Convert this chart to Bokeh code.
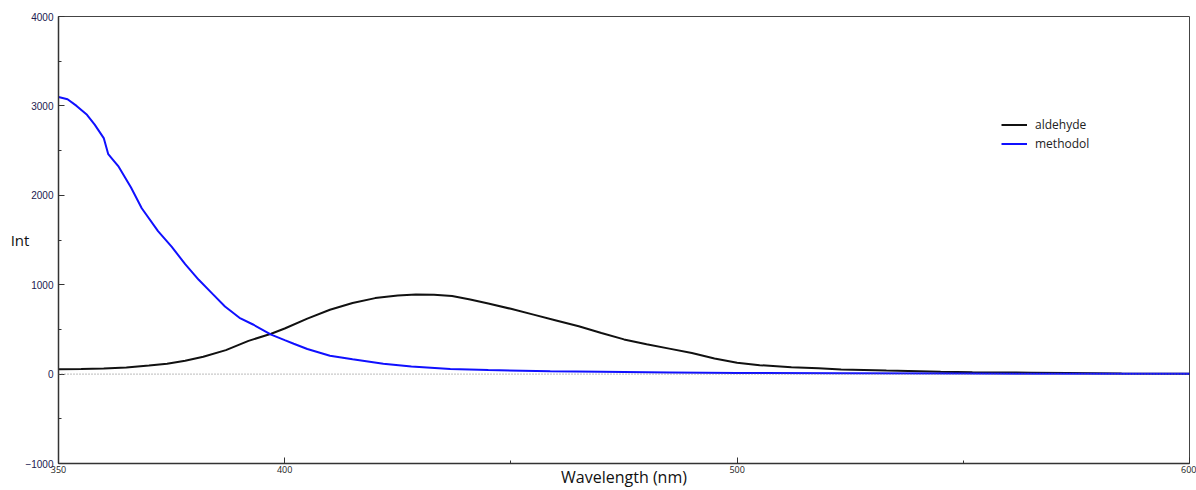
from bokeh.plotting import figure
from bokeh.models import Range1d, FixedTicker, Span, Legend, LegendItem
from bokeh.embed import file_html
from bokeh.resources import INLINE

# ---- data ----
ald_wl = [350, 355, 360, 365, 370, 374, 378, 382, 387, 392, 397, 400, 405, 410, 415,
          420, 425, 429, 433, 437, 441, 445, 450, 455, 460, 465, 470, 475, 480, 485,
          490, 495, 500, 505, 512, 518, 523, 533, 545, 552, 565, 573, 585, 600]
ald_int = [55, 58, 62, 75, 95, 117, 150, 195, 268, 372, 452, 510, 620, 720, 795,
           850, 880, 891, 888, 874, 835, 790, 730, 665, 600, 535, 460, 388, 333, 285,
           235, 175, 128, 100, 76, 66, 52, 39, 26, 20, 16, 13, 8, 5]

met_wl = [350, 352, 354, 356.3, 358, 360, 361, 362, 363.3, 366, 368.4, 372, 375, 378,
          381, 384, 386.8, 390, 393, 397, 400, 402, 405, 410, 415, 421.8, 428, 436.6,
          445, 458.7, 470, 485, 500, 523, 550, 575, 600]
met_int = [3100, 3075, 3000, 2900, 2790, 2640, 2460, 2400, 2320, 2090, 1855, 1600, 1426, 1230,
           1055, 900, 757, 630, 555, 441, 380, 340, 281, 206, 165, 117, 85, 58,
           45, 31, 25, 18, 13, 10, 6, 4, 3]

x_major = [350, 400, 500, 600]
x_minor = [450, 550]
y_major = [-1000, 0, 1000, 2000, 3000, 4000]
y_minor = [-500, 500, 1500, 2500, 3500]

series_names = ["aldehyde", "methodol"]
series_colors = ["#111111", "#1010ff"]
x_title = "Wavelength (nm)"
y_title = "Int"

p = figure(width=1196, height=490, output_backend="svg", toolbar_location=None,
           x_range=Range1d(350, 600), y_range=Range1d(-1000, 4000),
           min_border_left=58, min_border_right=7, min_border_top=16, min_border_bottom=26)

p.xgrid.visible = False
p.ygrid.visible = False
p.outline_line_color = "#444444"
p.outline_line_width = 1
p.background_fill_color = "white"
p.border_fill_color = "white"

# axes
p.xaxis.ticker = FixedTicker(ticks=x_major, minor_ticks=x_minor)
p.yaxis.ticker = FixedTicker(ticks=y_major, minor_ticks=y_minor)
for ax in (p.xaxis, p.yaxis):
    ax.axis_line_color = "#333333"
    ax.axis_line_width = 1.5
    ax.major_tick_in = 6
    ax.major_tick_out = 0
    ax.minor_tick_in = 3
    ax.minor_tick_out = 0
    ax.major_tick_line_color = "#333333"
    ax.minor_tick_line_color = "#333333"
    ax.axis_label_text_font = "Open Sans"
    ax.axis_label_text_font_style = "normal"
    ax.axis_label_text_color = "#111111"
p.xaxis.major_label_text_font = "Open Sans"
p.xaxis.major_label_text_font_size = "9px"
p.xaxis.major_label_text_color = "#222222"
p.xaxis.major_label_standoff = 2
p.yaxis.major_label_text_font = "Liberation Sans"
p.yaxis.major_label_text_font_size = "10px"
p.yaxis.major_label_text_color = "#202050"
p.yaxis.major_label_standoff = 5

# axis titles
p.xaxis.axis_label = x_title
p.xaxis.axis_label_text_font_size = "16px"
p.xaxis.axis_label_standoff = -10
p.yaxis.axis_label = y_title
p.yaxis.axis_label_text_font_size = "15px"
p.yaxis.axis_label_standoff = -7
yax = p.yaxis[0]
if "axis_label_orientation" in yax.properties():
    yax.axis_label_orientation = "horizontal"

# zero line
p.add_layout(Span(location=0, dimension="width", line_color="#777777",
                  line_width=1, line_dash="1 2"))

r1 = p.line(ald_wl, ald_int, line_color=series_colors[0], line_width=2)
r2 = p.line(met_wl, met_int, line_color=series_colors[1], line_width=2)

legend = Legend(items=[LegendItem(label=series_names[0], renderers=[r1]),
                       LegendItem(label=series_names[1], renderers=[r2])],
                location=(943, 310), orientation="vertical",
                background_fill_alpha=0, border_line_alpha=0,
                padding=0, margin=0, spacing=0,
                glyph_width=26, glyph_height=19, label_height=19,
                label_standoff=8,
                label_text_font="Open Sans", label_text_font_size="12px",
                label_text_color="#222222")
p.add_layout(legend)

open("out.html", "w").write(file_html(p, INLINE))
